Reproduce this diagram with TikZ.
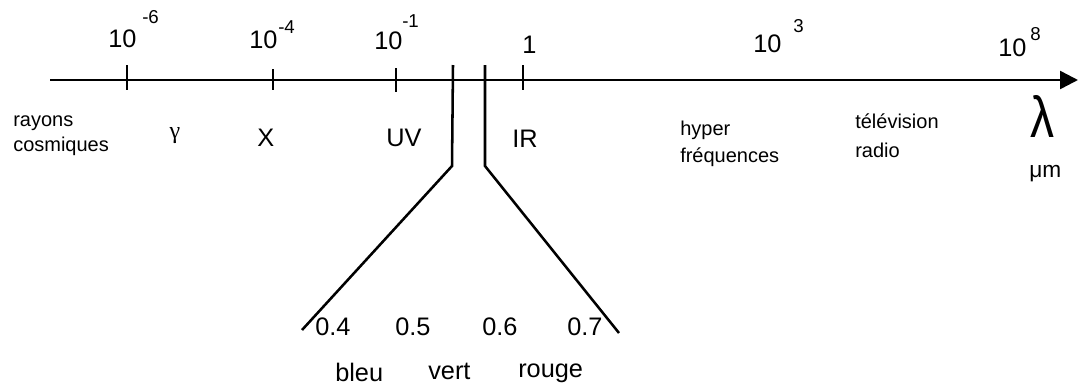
\documentclass[tikz,border=0pt]{standalone}
\usepackage{graphicx}
\usepackage{fontspec}
\setmainfont{Liberation Sans}
\newfontfamily\greekserif{Liberation Serif}
\usetikzlibrary{arrows.meta}
\begin{document}
\begin{tikzpicture}[x=0.75pt,y=-0.75pt,
  big/.style={anchor=base west,inner sep=0pt,font=\fontsize{19}{23}\selectfont},
  exponent/.style={anchor=base west,inner sep=0pt,font=\fontsize{14}{17}\selectfont},
  small/.style={anchor=base west,inner sep=0pt,font=\fontsize{15}{18}\selectfont},
  stroke/.style={line width=1.9pt},
  tickmark/.style={line width=1.7pt}]
\useasboundingbox (0,0) rectangle (1078,387);

% wavelength axis
\coordinate (axstart) at (50,80);
\coordinate (axend) at (1078,80);
\draw[stroke,-{Triangle[length=13.5pt,width=13.5pt]}] (axstart) -- (axend);

% tick marks
\foreach \xt/\ya/\yb in {127/65/90, 273/69/90, 396/68/92, 523/65/90}
  \draw[tickmark] (\xt,\ya) -- (\xt,\yb);

% powers of ten
\node[big] (p6) at (108,47) {10};
\node[exponent] (e6) at (142,23) {-6};
\node[big] (p4) at (249,48) {10};
\node[exponent] (e4) at (278,33) {-4};
\node[big] (p1) at (374,49) {10};
\node[exponent] (e1) at (402,27) {-1};
\node[big] (one) at (522,53) {1};
\node[big] (p3) at (753,52) {10};
\node[exponent] (e3) at (793,32) {3};
\node[big] (p8) at (998,56) {10};
\node[exponent] (e8) at (1030,40) {8};

% domains of the spectrum
\node[small] (rayons) at (13,126) {rayons};
\node[small] (cosmiques) at (13,151) {cosmiques};
\node[anchor=base,inner sep=0pt,font=\greekserif\fontsize{18}{21}\selectfont] (gamma) at (175,138) {γ};
\node[big] (xray) at (257,146) {X};
\node[big] (uv) at (386,146) {UV};
\node[big] (ir) at (512,147) {IR};
\node[small] (hyper) at (680,135) {hyper};
\node[small] (freq) at (680,162) {fréquences};
\node[small] (tele) at (855,128) {télévision};
\node[small] (radio) at (855,157) {radio};
\node[anchor=base west,inner sep=0pt,font=\fontsize{30}{36}\selectfont] (lambda) at (1030,137) {\scalebox{1.2}[1.45]{λ}};
\node[anchor=base west,inner sep=0pt,font=\fontsize{17}{20}\selectfont] (unit) at (1029,177) {μm};

% zoom on the visible band
\coordinate (vl0) at (453,65);
\coordinate (vl1) at (452,166);
\coordinate (vl2) at (302,330);
\coordinate (vr0) at (485,65);
\coordinate (vr1) at (485,166);
\coordinate (vr2) at (619,333);
\draw[stroke,line join=miter] (vl0) -- (vl1) -- (vl2);
\draw[stroke,line join=miter] (vr0) -- (vr1) -- (vr2);

\node[big] (w4) at (315,335) {0.4};
\node[big] (w5) at (395,335) {0.5};
\node[big] (w6) at (482,335) {0.6};
\node[big] (w7) at (567,335) {0.7};
\node[big] (bleu) at (335,381) {bleu};
\node[big] (vert) at (428,379) {vert};
\node[big] (rouge) at (518,377) {rouge};
\end{tikzpicture}
\end{document}
